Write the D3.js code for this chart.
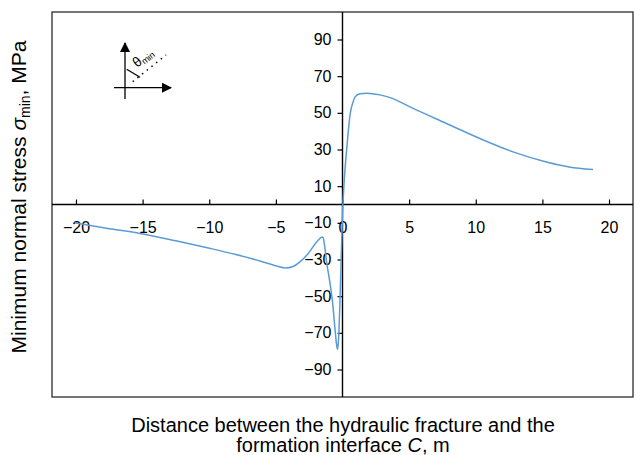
<!DOCTYPE html>
<html><head><meta charset="utf-8">
<script src="https://cdn.jsdelivr.net/npm/d3@7"></script>
<style>body{margin:0;background:#fff}svg{display:block}text{font-family:"Liberation Sans",Arial,sans-serif}</style>
</head><body><svg id="c" width="635" height="455"></svg>
<script>
const xValues = [-20.1,-17.5,-15.2,-12.5,-9.9,-8,-6.2,-5.2,-4.3,-3.7,-3.2,-2.6,-2.0,-1.65,-1.47,-1.35,-1.2,-1.0,-0.75,-0.55,-0.45,-0.37,-0.3,-0.2,-0.1,0,0.13,0.33,0.58,0.8,0.95,1.3,1.83,2.8,3.58,5.3,7.8,10.3,12.8,15.3,17,18.8];
const yValues = [-10,-13.2,-15.8,-19.8,-24,-27.3,-30.8,-33,-34.6,-33.8,-31.3,-27,-21,-18.2,-17.7,-22,-31,-40,-53,-69,-76,-79,-74,-55,-30,-5,13,31.4,49.6,56,58.7,60.4,60.7,59.8,58.3,52.4,44.2,36,28.7,23.2,20.5,19.1];
const xTicks = [-20,-15,-10,-5,0,5,10,15,20];
const yTicks = [90,70,50,30,10,-10,-30,-50,-70,-90];

const svg = d3.select("#c");
const L=52,R=633,T=12,B=397;
const x = d3.scaleLinear().domain([-21.8,21.8]).range([L,R]);
const y = d3.scaleLinear().domain([-105,105]).range([B,T]);
const fmt = v => v<0 ? "\u2212"+Math.abs(v) : String(v);

// frame
svg.append("rect").attr("x",L).attr("y",T).attr("width",R-L).attr("height",B-T)
  .attr("fill","none").attr("stroke","#2b2b2b").attr("stroke-width",1.3);

// x axis (ticks up, labels below)
const xa = svg.append("g").attr("transform",`translate(0,${y(0)})`)
  .call(d3.axisBottom(x).tickValues(xTicks).tickFormat(fmt).tickSizeInner(-5).tickSizeOuter(0).tickPadding(17));
xa.select(".domain").remove();
xa.selectAll("line").attr("stroke","#000").attr("stroke-width",1.2);
xa.selectAll("text").attr("font-size",16).attr("fill","#000").attr("font-family","Liberation Sans, Arial, sans-serif");
svg.append("line").attr("x1",L).attr("x2",R).attr("y1",y(0)).attr("y2",y(0)).attr("stroke","#000").attr("stroke-width",1.4);

// y axis
const ya = svg.append("g").attr("transform",`translate(${x(0)},0)`)
  .call(d3.axisLeft(y).tickValues(yTicks).tickFormat(fmt).tickSizeInner(5).tickSizeOuter(0).tickPadding(6));
ya.select(".domain").remove();
ya.selectAll("line").attr("stroke","#000").attr("stroke-width",1.2);
ya.selectAll("text").attr("font-size",16).attr("fill","#000").attr("font-family","Liberation Sans, Arial, sans-serif");
svg.append("line").attr("x1",x(0)).attr("x2",x(0)).attr("y1",T).attr("y2",B).attr("stroke","#000").attr("stroke-width",1.4);

// curve
const pts = xValues.map((v,i)=>[v,yValues[i]]);
svg.append("path").datum(pts)
  .attr("d", d3.line().x(d=>x(d[0])).y(d=>y(d[1])).curve(d3.curveMonotoneX))
  .attr("fill","none").attr("stroke","#5b9bd5").attr("stroke-width",1.5);

// inset icon
const defs = svg.append("defs");
defs.append("marker").attr("id","ah").attr("viewBox","0 0 10 10").attr("refX",9).attr("refY",5)
  .attr("markerWidth",10).attr("markerHeight",10).attr("markerUnits","userSpaceOnUse").attr("orient","auto")
  .append("path").attr("d","M0,0L10,5L0,10Z").attr("fill","#000");
const ic = svg.append("g");
ic.append("line").attr("x1",125).attr("y1",99).attr("x2",125).attr("y2",43).attr("stroke","#000").attr("stroke-width",1.3).attr("marker-end","url(#ah)");
ic.append("line").attr("x1",114).attr("y1",87.7).attr("x2",171).attr("y2",87.7).attr("stroke","#000").attr("stroke-width",1.3).attr("marker-end","url(#ah)");
ic.append("line").attr("x1",126.7).attr("y1",69.3).attr("x2",140).attr("y2",77.3).attr("stroke","#000").attr("stroke-width",1.3);
ic.append("line").attr("x1",132.7).attr("y1",81.7).attr("x2",166).attr("y2",55).attr("stroke","#000").attr("stroke-width",1.5).attr("stroke-dasharray","1.5,4.5");
const th = ic.append("text").attr("transform","translate(137,68) rotate(-38)").attr("font-size",14);
th.append("tspan").attr("font-family","Liberation Sans, Arial, sans-serif").text("θ");
th.append("tspan").attr("font-size",9).attr("dy",2).text("min");

// y label
const yl = svg.append("text").attr("transform","translate(26,197) rotate(-90)").attr("text-anchor","middle").attr("font-size",21);
yl.append("tspan").text("Minimum normal stress ");
yl.append("tspan").attr("font-style","italic").text("σ");
yl.append("tspan").attr("font-size",14).attr("dy",4).text("min");
yl.append("tspan").attr("dy",-4).text(", MPa");

// x label
svg.append("text").attr("x",343).attr("y",432).attr("text-anchor","middle").attr("font-size",20).text("Distance between the hydraulic fracture and the");
const xl2 = svg.append("text").attr("x",343).attr("y",452).attr("text-anchor","middle").attr("font-size",20);
xl2.append("tspan").text("formation interface ");
xl2.append("tspan").attr("font-style","italic").text("C");
xl2.append("tspan").text(", m");
</script></body></html>
